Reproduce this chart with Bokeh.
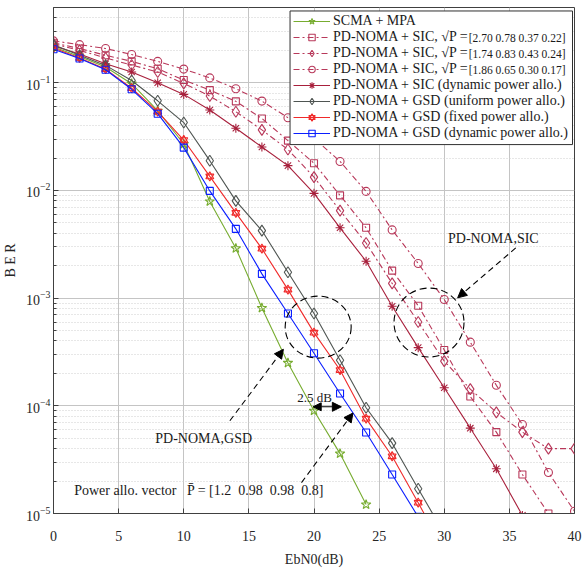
from bokeh.plotting import figure
from bokeh.models import FixedTicker, Legend, LegendItem, Label, Arrow, NormalHead, BoxAnnotation
from bokeh.embed import file_html
from bokeh.resources import INLINE

# ---------------- data ----------------
ebn0 = [0, 2, 4, 6, 8, 10, 12, 14, 16, 18, 20, 22, 24, 26, 28, 30, 32, 34, 36, 38, 40]

ber_scma_mpa = [0.215, 0.175, 0.14, 0.098, 0.055, 0.027, 7.9e-3, 2.9e-3, 8.1e-4, 2.5e-4,
                9.0e-5, 3.6e-5, 1.21e-5]
ber_sic_p1 = [0.235, 0.208, 0.18, 0.158, 0.135, 0.106, 0.0855, 0.0672, 0.0466, 0.029,
              0.0179, 9.0e-3, 4.5e-3, 1.8e-3, 8.5e-4, 3.3e-4, 1.22e-4, 5.7e-5, 2.3e-5, 1.0e-5]
ber_sic_p2 = [0.23, 0.2, 0.17, 0.146, 0.126, 0.0986, 0.0753, 0.0538, 0.0365, 0.024,
              0.0133, 6.5e-3, 3.25e-3, 1.37e-3, 6.0e-4, 2.6e-4, 1.43e-4, 8.7e-5, 5.7e-5,
              4.0e-5, 4.0e-5]
ber_sic_p3 = [0.245, 0.226, 0.208, 0.183, 0.158, 0.134, 0.111, 0.088, 0.0676, 0.0474,
              0.0305, 0.0186, 9.8e-3, 4.3e-3, 2.1e-3, 9.7e-4, 3.9e-4, 1.55e-4, 6.7e-5,
              2.4e-5, 1.05e-5]
ber_sic_dyn = [0.22, 0.185, 0.15, 0.126, 0.1, 0.078, 0.0558, 0.0378, 0.0253, 0.017,
               9.4e-3, 4.5e-3, 2.2e-3, 8.4e-4, 3.47e-4, 1.47e-4, 6.2e-5, 2.6e-5, 9.6e-6]
ber_gsd_uniform = [0.225, 0.18, 0.145, 0.105, 0.068, 0.0427, 0.0189, 8.0e-3, 4.24e-3,
                   1.74e-3, 7.2e-4, 2.65e-4, 9.6e-5, 4.5e-5, 1.7e-5, 6.5e-6]
ber_gsd_fixed = [0.21, 0.17, 0.134, 0.089, 0.054, 0.0294, 0.0135, 6.2e-3, 2.88e-3, 1.2e-3,
                 4.78e-4, 2.15e-4, 7.6e-5, 3.4e-5, 1.26e-5, 4.5e-6]
ber_gsd_dyn = [0.205, 0.168, 0.132, 0.087, 0.0516, 0.025, 9.9e-3, 4.4e-3, 1.68e-3, 7.2e-4,
               3.08e-4, 1.3e-4, 5.66e-5, 2.3e-5, 9.3e-6]

labels = ["SCMA + MPA",
          "PD-NOMA + SIC, \u221aP =",
          "PD-NOMA + SIC, \u221aP =",
          "PD-NOMA + SIC, \u221aP =",
          "PD-NOMA + SIC (dynamic power allo.)",
          "PD-NOMA + GSD (uniform power allo.)",
          "PD-NOMA + GSD (fixed power allo.)",
          "PD-NOMA + GSD (dynamic power allo.)"]
power_vectors = ["[2.70 0.78 0.37 0.22]", "[1.74 0.83 0.43 0.24]", "[1.86 0.65 0.30 0.17]"]

x_ticks = [0, 5, 10, 15, 20, 25, 30, 35, 40]
y_ticks = [1e-5, 1e-4, 1e-3, 1e-2, 1e-1]
y_minor = [k * 10.0 ** e for e in range(-5, 0) for k in range(2, 10) if k * 10.0 ** e <= 0.5]

FONT = "Liberation Serif"

# pixel -> data helpers for annotation placement (frame: x 52..574, y 7..513)
def px_x(px):
    return (px - 52) / 13.05

def px_y(py):
    return 10 ** (-5 + (513 - py) / 108)

p = figure(width=583, height=574, x_range=(0, 40), y_range=(1e-5, 0.5),
           y_axis_type="log", output_backend="svg", toolbar_location=None,
           min_border_left=51, min_border_right=9, min_border_top=7, min_border_bottom=61)
p.background_fill_color = "white"
p.border_fill_color = "white"
p.outline_line_color = "#404040"

p.xaxis.ticker = FixedTicker(ticks=x_ticks)
p.yaxis.ticker = FixedTicker(ticks=y_ticks, minor_ticks=y_minor)
for ax in (p.xaxis, p.yaxis):
    ax.major_tick_in = 5
    ax.major_tick_out = 0
    ax.minor_tick_in = 3
    ax.minor_tick_out = 0
    ax.axis_line_color = "#404040"
    ax.major_tick_line_color = "#404040"
    ax.minor_tick_line_color = "#404040"
    ax.major_label_text_font = FONT
    ax.major_label_text_font_size = "14px"
    ax.major_label_text_color = "#262626"
    ax.axis_label_text_font = FONT
    ax.axis_label_text_font_size = "14px"
    ax.axis_label_text_font_style = "normal"
    ax.axis_label_text_color = "#262626"
p.xaxis.minor_tick_line_color = None
p.xaxis.major_label_standoff = 17
p.xaxis.axis_label = "EbN0(dB)"
p.xaxis.axis_label_standoff = 8
p.yaxis.axis_label = "B E R"
p.yaxis.major_label_standoff = 3

p.xgrid.grid_line_color = "#c4c4c4"
p.ygrid.grid_line_color = "#c4c4c4"
p.ygrid.minor_grid_line_color = "#cfcfcf"
p.ygrid.minor_grid_line_dash = "1 2"

GREEN = "#77AC30"
SIC_C = "#B8385A"
SIC_D = "#A8203C"
GRAY = "#4F5552"
RED = "#F02A2A"
BLUE = "#0A1EFF"
DASHDOT = "6 3 2 3"
MS = 8

items = []

def series(ys, color, marker, dash="solid", size=MS, extra=None):
    xs = ebn0[:len(ys)]
    rs = [p.line(xs, ys, line_color=color, line_width=1.1, line_dash=dash)]
    rs.append(p.scatter(xs, ys, marker=marker, size=size, line_color=color,
                        fill_color=None, line_width=1.1))
    if extra:
        rs.append(p.scatter(xs, ys, marker=extra, size=size, line_color=color,
                            fill_color=None, line_width=1.1))
    return rs

items.append(LegendItem(label=labels[0], renderers=series(ber_scma_mpa, GREEN, "star", size=10)))
items.append(LegendItem(label=labels[1], renderers=series(ber_sic_p1, SIC_C, "square", DASHDOT, 7)))
items.append(LegendItem(label=labels[2], renderers=series(ber_sic_p2, SIC_C, "diamond", DASHDOT, 11)))
items.append(LegendItem(label=labels[3], renderers=series(ber_sic_p3, SIC_C, "circle", DASHDOT, 8)))
items.append(LegendItem(label=labels[4], renderers=series(ber_sic_dyn, SIC_D, "asterisk", size=9)))
items.append(LegendItem(label=labels[5], renderers=series(ber_gsd_uniform, GRAY, "diamond", size=11)))
items.append(LegendItem(label=labels[6], renderers=series(ber_gsd_fixed, RED, "triangle", size=8,
                                                         extra="inverted_triangle")))
items.append(LegendItem(label=labels[7], renderers=series(ber_gsd_dyn, BLUE, "square", size=7)))

# white legend panel with border (drawn as a box so that extra texts can sit on it)
p.add_layout(BoxAnnotation(left=px_x(289), right=px_x(572), top=px_y(9), bottom=px_y(143),
                           fill_color="white", fill_alpha=1.0, line_color="#303030",
                           line_width=1, line_alpha=1.0, level="annotation"))

# smaller bracketed power vectors after the SIC legend labels
for i, txt in enumerate(power_vectors):
    row_py = 20 + 16 * (i + 1)
    p.add_layout(Label(x=px_x(468), y=px_y(row_py),
                       text=txt, text_font=FONT, text_font_size="11.5px", level="overlay",
                       text_baseline="middle", text_align="left", text_color="#1a1a1a"))

legend = Legend(items=items, location="top_right", margin=6, padding=7, spacing=0,
                glyph_width=37, glyph_height=16, label_height=16, label_standoff=3,
                label_text_font=FONT, label_text_font_size="14px",
                label_text_color="#1a1a1a",
                border_line_color=None,
                background_fill_color="white", background_fill_alpha=0.0)
p.add_layout(legend)

# ---------------- annotations ----------------
p.ellipse(x=[20.32], y=[10 ** -3.269], width=66, height=62, width_units="screen",
          height_units="screen", fill_color=None, line_color="black", line_dash="7 4",
          line_width=1.1)
p.ellipse(x=[28.83], y=[10 ** -3.227], width=70, height=69, width_units="screen",
          height_units="screen", fill_color=None, line_color="black", line_dash="7 4",
          line_width=1.1)

def arrow(x0, l0, x1, l1, dash="dashed", both=False):
    head = NormalHead(size=9, fill_color="black", line_color="black")
    kw = dict(x_start=x0, y_start=10 ** l0, x_end=x1, y_end=10 ** l1, end=head,
              line_color="black", line_width=1.1, line_dash=dash)
    if both:
        kw["start"] = NormalHead(size=8, fill_color="black", line_color="black")
    p.add_layout(Arrow(**kw))

arrow(13.54, -4.139, 17.65, -3.475, "6 4")
arrow(35.49, -2.534, 31.03, -2.997, "6 4")
arrow(19.04, -4.713, 22.99, -4.067, "6 4")
arrow(19.94, -4.009, 22.1, -4.009, "solid", both=True)

def label(x, logy, txt, align="center", size="14px"):
    p.add_layout(Label(x=x, y=10 ** logy, text=txt, text_font=FONT, text_font_size=size,
                       text_align=align, text_baseline="middle", text_color="#1a1a1a"))

NB = "\u00a0"
label(33.77, -2.442, "PD-NOMA,SIC")
label(11.53, -4.306, "PD-NOMA,GSD")
label(20.04, -3.923, "2.5 dB", size="13px")
label(1.59, -4.787,
      "Power allo. vector" + NB * 3 + "P\u0304 = [1.2" + NB * 2 + "0.98" + NB * 2 + "0.98"
      + NB * 2 + "0.8]", align="left", size="14px")

open("out.html", "w").write(file_html(p, INLINE))
